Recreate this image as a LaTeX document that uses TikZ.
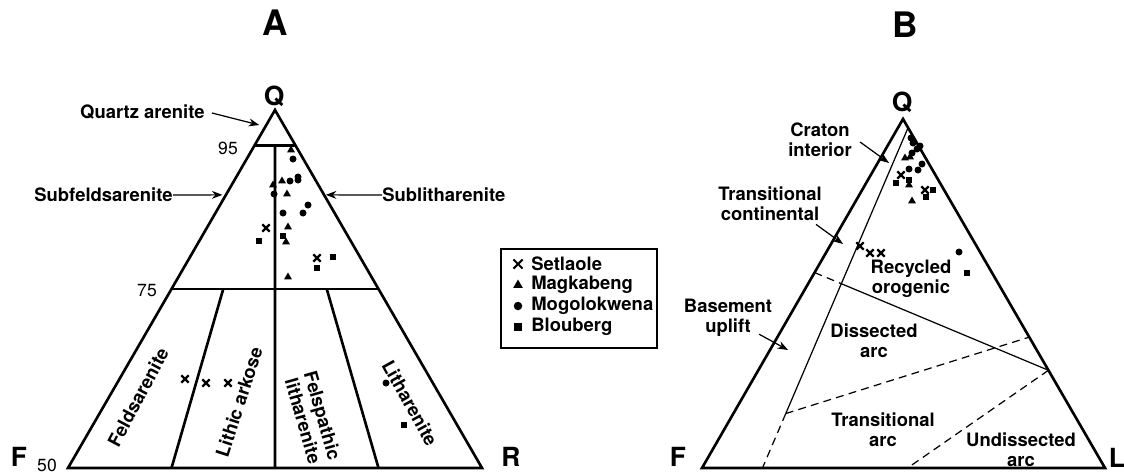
\documentclass[tikz,border=0pt]{standalone}
\usepackage{fontspec}
\setmainfont{TeX Gyre Heros}
\usetikzlibrary{calc,arrows.meta,shapes.geometric,shapes.misc}

\begin{document}
\begin{tikzpicture}[x=0.02cm,y=0.02cm,
  edge/.style={line width=1.5pt, line join=miter},
  thinln/.style={line width=0.7pt},
  dashln/.style={line width=0.7pt, dash pattern=on 4.5pt off 3pt},
  lab/.style={font=\fontsize{10.5}{11.5}\selectfont\bfseries, align=center, inner sep=0pt},
  apex/.style={font=\fontsize{15}{15}\selectfont\bfseries, inner sep=0pt},
  ttl/.style={font=\fontsize{20}{20}\selectfont\bfseries, inner sep=0pt},
  tick/.style={font=\fontsize{10}{12}\selectfont, inner sep=0pt},
  ptr/.style={line width=0.7pt, -{Stealth[length=6pt,width=4.5pt]}},
  pcirc/.style={circle, fill, inner sep=0pt, minimum size=#1},
  pcirc/.default=0.14cm,
  psq/.style={rectangle, fill, inner sep=0pt, minimum size=#1},
  psq/.default=0.13cm,
  ptri/.style={regular polygon, regular polygon sides=3, fill, inner sep=0pt, minimum size=#1},
  ptri/.default=0.18cm,
  pcross/.style={cross out, draw, line width=1.3pt, inner sep=0pt, minimum size=#1},
  pcross/.default=0.1cm]

\useasboundingbox (0,0) rectangle (1124,471);

% Titles
\node[ttl] (ta) at (275,448) {A};
\node[ttl] (tb) at (905,446) {B};

% ---------------- Diagram A (QFR) ----------------
\coordinate (Fa) at (68,3);
\coordinate (Ra) at (482,3);
\coordinate (Qa) at (275,361);

\coordinate (a95) at ($(Qa)!0.1!(Fa)$);
\coordinate (b95) at ($(Qa)!0.1!(Ra)$);
\coordinate (a75) at ($(Qa)!0.5!(Fa)$);
\coordinate (b75) at ($(Qa)!0.5!(Ra)$);

% Draw the outline and field boundaries
\draw[edge] (Fa) -- (Ra) -- (Qa) -- cycle;
\draw[edge] (a95) -- (b95);
\draw[edge] (a75) -- (b75);
\draw[edge] ($(a95)!0.5!(b95)$) -- ($(Fa)!0.5!(Ra)$);
\draw[edge] ($(a75)!0.25!(b75)$) -- ($(Fa)!0.25!(Ra)$);
\draw[edge] ($(a75)!0.75!(b75)$) -- ($(Fa)!0.75!(Ra)$);

% Corner and tick labels
\node[apex] (qa) at (274,375) {Q};
\node[apex] (fa) at (19,14) {F};
\node[apex] (ra) at (511,14) {R};
\node[tick] (n50) at (47,6) {50};
\node[tick] (n95) at (228,323) {95};
\node[tick] (n75) at (147,180) {75};

% Field names with pointers
\node[lab, anchor=east] (qz) at (205,359) {Quartz arenite};
\coordinate (qzt) at ($(Qa)!0.042!(Fa)$);
\draw[ptr] (qz.east) ++(7,-1) -- ([xshift=-4]qzt);

\node[lab, anchor=east] (sf) at (173,276) {Subfeldsarenite};
\coordinate (sft) at ($(Qa)!0.237!(Fa)$);
\draw[ptr] (sf.east) -- ([xshift=-2]sft);

\node[lab, anchor=west] (sl) at (382,276) {Sublitharenite};
\coordinate (slt) at ($(Qa)!0.237!(Ra)$);
\draw[ptr] (sl.west) -- ([xshift=1]slt);

\node[lab, rotate=62] (fs) at (138,74) {Feldsarenite};
\node[lab, rotate=72] (lk) at (239,69) {Lithic arkose};
\node[lab, rotate=-74] (fl) at (313,53) {Felspathic\\litharenite};
\node[lab, rotate=-61] (lt) at (410,68) {Litharenite};

% Data points
\foreach \x/\y [count=\i] in {266/243, 317/213, 185/92, 206/88, 228/88}
  \node[pcross] (xa\i) at (\x,\y) {};
\foreach \x/\y [count=\i] in {291/321, 273/286, 282/290, 287/277, 288/244, 286/229, 288/194}
  \node[ptri] (ga\i) at (\x,\y) {};
\foreach \x/\y [count=\i] in {293/312, 290/290, 298/294, 298/291, 274/277, 308/266, 283/258, 303/258, 386/88}
  \node[pcirc] (ca\i) at (\x,\y) {};
\foreach \x/\y [count=\i] in {259/230, 283/235, 333/214, 317/203, 404/46}
  \node[psq] (sa\i) at (\x,\y) {};

% ---------------- Legend ----------------
\draw[line width=1.1pt] (501,123) rectangle (657,222);
\node[pcross=0.14cm, line width=1.2pt] (lg1) at (518,207) {};
\node[ptri=0.22cm] (lg2) at (518,186) {};
\node[pcirc=0.17cm] (lg3) at (518,165) {};
\node[psq=0.16cm] (lg4) at (518,144) {};
\node[lab, anchor=west] (lt1) at (531,207) {Setlaole};
\node[lab, anchor=west] (lt2) at (531,186) {Magkabeng};
\node[lab, anchor=west] (lt3) at (531,165) {Mogolokwena};
\node[lab, anchor=west] (lt4) at (531,144) {Blouberg};

% ---------------- Diagram B (QFL) ----------------
\coordinate (Fb) at (702,3);
\coordinate (Lb) at (1105,3);
\coordinate (Qb) at (903,352);

\coordinate (T1) at ($(Qb)!0.025!(Lb)$);
\coordinate (B1) at ($(Fb)!0.15!(Lb)$);
\coordinate (M1) at ($(T1)!0.84!(B1)$);
\coordinate (R1) at ($(Qb)!0.625!(Lb)$);
\coordinate (P1) at ($(Qb)!0.44!(Fb)$);
\coordinate (P2) at ($(Qb)!0.72!(Lb)$);
\coordinate (U1) at ($(Fb)!0.51!(Lb)$);
\coordinate (C1) at (intersection of P1--P2 and T1--B1);

% Draw the outline and provenance fields
\draw[edge] (Fb) -- (Lb) -- (Qb) -- cycle;
\draw[thinln] (T1) -- (M1);
\draw[dashln] (M1) -- (B1);
\draw[dashln] (P1) -- (C1);
\draw[thinln] (C1) -- (P2);
\draw[dashln] (P2) -- (U1);
\draw[dashln] (M1) -- (R1);

% Corner labels
\node[apex] (qb) at (902,369) {Q};
\node[apex] (fb) at (678,14) {F};
\node[apex] (lb) at (1117,13) {L};

% Field names with pointers
\node[lab] (ci) at (820,331) {Craton\\interior};
\draw[ptr] (ci.east) ++(8,-2) -- (889,308);
\node[lab] (tc) at (770,267) {Transitional\\continental};
\draw[ptr] (tc.south east) ++(-6,-3) -- (843,227);
\node[lab] (bu) at (728,153) {Basement\\uplift};
\draw[ptr] ($(bu.south)!0.7!(bu.south east)$) ++(0,3) -- (788,121);
\node[lab] (ro) at (911,192) {Recycled\\orogenic};
\node[lab] (da) at (874,130) {Dissected\\arc};
\node[lab] (tr) at (883,41) {Transitional\\arc};
\node[lab] (ua) at (1021,21) {Undissected\\arc};

% Data points
\foreach \x/\y [count=\i] in {901/296, 925/281, 860/225, 870/218, 881/218}
  \node[pcross] (xb\i) at (\x,\y) {};
\foreach \x/\y [count=\i] in {905/313, 910/314, 909/286, 912/270}
  \node[ptri] (gb\i) at (\x,\y) {};
\foreach \x/\y [count=\i] in {911/333, 913/328, 912/318, 917/322, 920/325, 918/301, 922/307, 909/302, 959/219}
  \node[pcirc] (cb\i) at (\x,\y) {};
\foreach \x/\y [count=\i] in {896/288, 909/291, 933/281, 926/274, 967/198}
  \node[psq] (sb\i) at (\x,\y) {};

\end{tikzpicture}
\end{document}
